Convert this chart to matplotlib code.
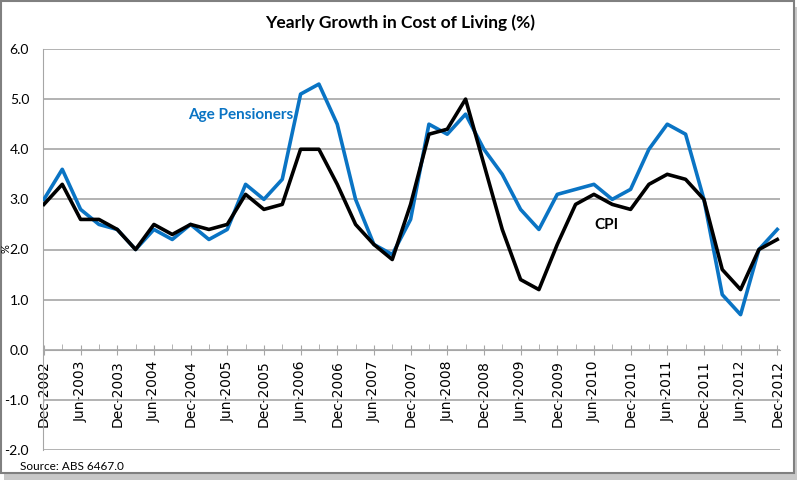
import matplotlib.pyplot as plt
from matplotlib.patches import Rectangle
import numpy as np

# quarterly, Dec-2002 .. Dec-2012
quarters = []
for yr in range(2002, 2013):
    for mon in ["Mar", "Jun", "Sep", "Dec"]:
        quarters.append(f"{mon}-{yr}")
quarters = quarters[3:]  # start at Dec-2002

age_pensioners = [3.0, 3.6, 2.8, 2.5, 2.4, 2.0, 2.4, 2.2, 2.5, 2.2,
                  2.4, 3.3, 3.0, 3.4, 5.1, 5.3, 4.5, 3.0, 2.1, 1.9,
                  2.6, 4.5, 4.3, 4.7, 4.0, 3.5, 2.8, 2.4, 3.1, 3.2,
                  3.3, 3.0, 3.2, 4.0, 4.5, 4.3, 3.0, 1.1, 0.7, 2.0,
                  2.4]
cpi = [2.9, 3.3, 2.6, 2.6, 2.4, 2.0, 2.5, 2.3, 2.5, 2.4,
       2.5, 3.1, 2.8, 2.9, 4.0, 4.0, 3.3, 2.5, 2.1, 1.8,
       2.9, 4.3, 4.4, 5.0, 3.7, 2.4, 1.4, 1.2, 2.1, 2.9,
       3.1, 2.9, 2.8, 3.3, 3.5, 3.4, 3.0, 1.6, 1.2, 2.0,
       2.2]

blue = "#0A74C4"
font = ["Lato", "DejaVu Sans"]

fig = plt.figure(figsize=(8, 4.8), dpi=100)
ax = fig.add_axes([43 / 800, 1 - 450 / 480, (780 - 43) / 800, (450 - 49) / 480])

x = np.arange(len(quarters))
ax.plot(x, age_pensioners, color=blue, lw=2.6, zorder=3)
ax.plot(x, cpi, color="black", lw=2.6, zorder=4)

ax.set_ylim(-2, 6)
ax.set_xlim(-0.05, len(quarters) - 1 + 0.15)
yt = np.arange(-2, 6.1, 1)
ax.set_yticks(yt)
ax.set_yticklabels([f"{v:.1f}" for v in yt], family=font, fontsize=10)
ax.yaxis.grid(True, color="#A6A6A6", lw=1.2)
ax.set_axisbelow(True)
ax.tick_params(axis="y", length=0, pad=10)

ax.set_xticks(x[::2])
ax.set_xticklabels(quarters[::2], family=["Liberation Sans"], fontsize=7.6)
ax.set_xticks(x, minor=True)
ax.tick_params(axis="x", which="major", direction="inout", length=7, color="#A6A6A6", pad=4,
               labelrotation=90)
ax.tick_params(axis="x", which="minor", direction="in", length=4, color="#A6A6A6")

for s in ["top", "right"]:
    ax.spines[s].set_visible(False)
ax.spines["bottom"].set_position(("data", 0))
ax.spines["bottom"].set_color("#A6A6A6")
ax.spines["left"].set_color("#A6A6A6")

fig.text(6 / 800, 1 - 249 / 480, "%", rotation=90, ha="center", va="center", fontsize=8, family=font)

ax.text(10.75, 4.68, "Age Pensioners", color=blue, fontsize=11, fontweight="bold",
        family=font, ha="center", va="center")
ax.text(30.7, 2.48, "CPI", color="black", fontsize=11, fontweight="bold",
        family=font, ha="center", va="center")

fig.text(0.5, 1 - 23 / 480, "Yearly Growth in Cost of Living (%)", ha="center", va="center",
         fontsize=12.5, fontweight="bold", family=font)
fig.text(20 / 800, 1 - 466 / 480, "Source: ABS 6467.0", ha="left", va="center", fontsize=8.5, family=font)

# frame with a small shadow
fig.patches.append(Rectangle((4 / 800, 0), 793 / 800, 1 - 7 / 480,
                             transform=fig.transFigure, facecolor="#C8C8C8", edgecolor="none", zorder=-2))
fig.patches.append(Rectangle((1 / 800, 7 / 480), 793 / 800, 1 - 8 / 480,
                             transform=fig.transFigure, facecolor="white", edgecolor="#808080",
                             lw=1.5, zorder=-1))

fig.savefig("out.png", dpi=100)
